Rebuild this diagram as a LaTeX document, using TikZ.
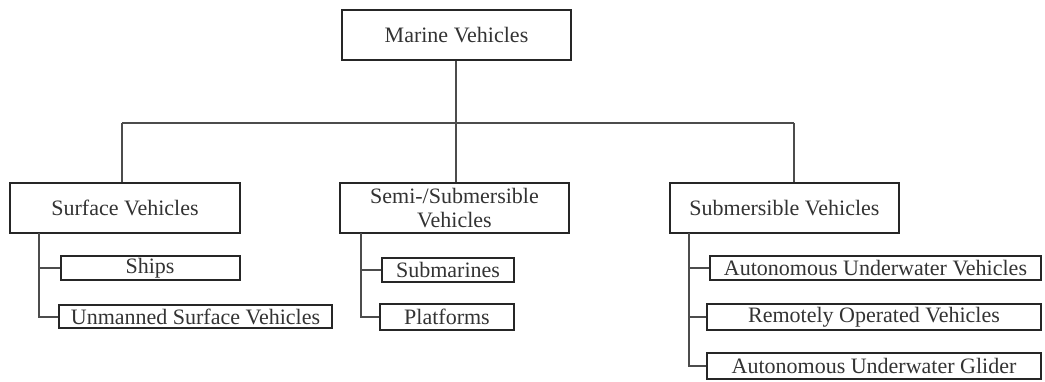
\documentclass[tikz,border=0pt]{standalone}
\usepackage{fontspec}
\setmainfont{Liberation Serif}
\begin{document}
\begin{tikzpicture}[x=1pt,y=-1pt,
  box/.style={draw=black!85,line width=2pt,fill=white,inner sep=0pt,align=center,
    font=\fontsize{22}{24}\selectfont,text=black!80},
  conn/.style={draw=black!70,line width=2pt}]
\useasboundingbox (0,0) rectangle (1045,381);
\node[box,minimum width=229pt,minimum height=50pt] (top) at (456.5,35) {Marine Vehicles};
\node[box,minimum width=230pt,minimum height=50pt] (surf) at (125,208) {Surface Vehicles};
\node[box,minimum width=229pt,minimum height=50pt] (semi) at (454.5,208) {Semi-/Submersible\\Vehicles};
\node[box,minimum width=229pt,minimum height=50pt] (sub) at (784.5,208) {Submersible Vehicles};
\node[box,minimum width=179pt,minimum height=24pt] (ships) at (150,268) {Ships};
\node[box,minimum width=273pt,minimum height=23pt] (usv) at (195.5,316.5) {Unmanned Surface Vehicles};
\node[box,minimum width=132pt,minimum height=24pt] (subm) at (448,270) {Submarines};
\node[box,minimum width=134pt,minimum height=26pt] (plat) at (447,316.5) {Platforms};
\node[box,minimum width=331pt,minimum height=24pt] (auv) at (875.5,268) {Autonomous Underwater Vehicles};
\node[box,minimum width=334pt,minimum height=26pt] (rov) at (874,317) {Remotely Operated Vehicles};
\node[box,minimum width=334pt,minimum height=26pt] (aug) at (874,366) {Autonomous Underwater Glider};
\coordinate (bus) at (456,123);
\coordinate (bl) at (122,123);
\coordinate (br) at (794,123);
\coordinate (sa) at (39,233);
\coordinate (sb) at (361,233);
\coordinate (sc) at (689,233);
\draw[conn] (top.south -| bus) -- (semi.north -| bus);
\draw[conn] (bl) -- (br);
\draw[conn] (bl) -- (surf.north -| bl);
\draw[conn] (br) -- (sub.north -| br);
\draw[conn] (sa) |- (usv.west);
\draw[conn] (ships.west -| sa) -- (ships.west);
\draw[conn] (sb) |- (plat.west);
\draw[conn] (subm.west -| sb) -- (subm.west);
\draw[conn] (sc) |- (aug.west);
\draw[conn] (auv.west -| sc) -- (auv.west);
\draw[conn] (rov.west -| sc) -- (rov.west);
\end{tikzpicture}
\end{document}
